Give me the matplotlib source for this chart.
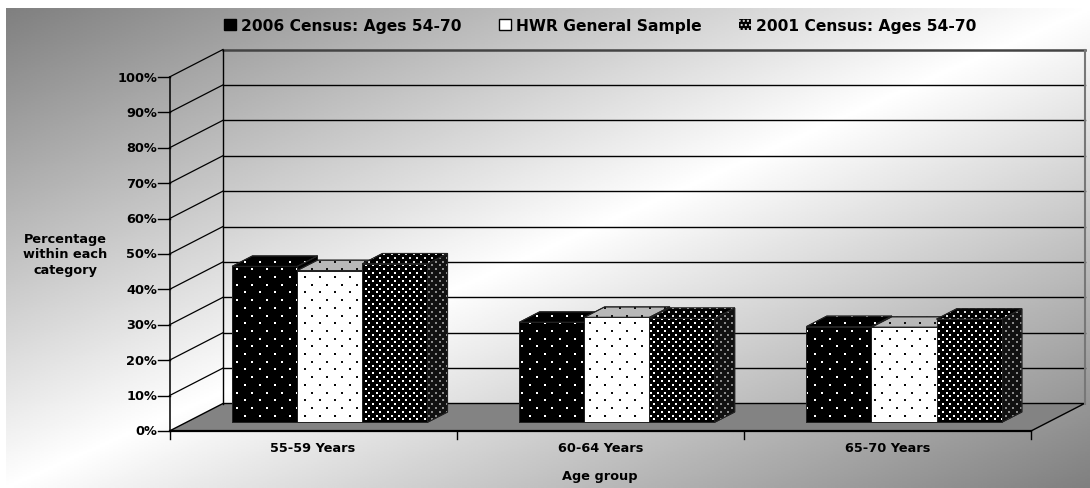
import numpy as np
import matplotlib.pyplot as plt
from matplotlib.patches import Polygon, Patch

# data (percent)
categories = ['55-59 Years', '60-64 Years', '65-70 Years']
series = ['2006 Census: Ages 54-70', 'HWR General Sample', '2001 Census: Ages 54-70']
census_2006 = [44.1, 28.3, 27.1]
hwr_sample = [42.9, 29.7, 26.9]
census_2001 = [44.8, 29.4, 29.2]
yticks = np.arange(0, 101, 10)

# layout in pixels (from top-left of the 1090x489 image)
W, H = 1090, 489
X0, X3 = 169.5, 1031.0      # front edge of the floor
Y0, Y100 = 432.0, 78.0      # front axis 0% and 100%
DXP, DYP = 53.5, 27.5       # depth of the box
sx = (X3 - X0) / 3
sy = (Y0 - Y100) / 100
DX, DY = DXP / sx, DYP / sy

ZF, ZB = 0.31, 0.69         # bar depth (front, back) as fraction of box
BW = 0.2265                 # bar width in category units
GAP = (1 - 3 * BW) / 2

fig = plt.figure(figsize=(W / 100, H / 100), dpi=100)

# gradient background
bg = fig.add_axes([0, 0, 1, 1])
bg.axis('off')
xx, yy = np.meshgrid(np.linspace(0, 1, 500), np.linspace(0, 1, 250))
g = 1 - 0.5 * np.abs(xx + yy - 1)
bg.imshow(g, cmap='gray', vmin=0, vmax=1, extent=(6, W, H, 9),
          aspect='auto', interpolation='bilinear')
bg.set_xlim(0, W)
bg.set_ylim(H, 0)

ax = fig.add_axes([0, 0, 1, 1])
ax.axis('off')
ax.set_xlim(-X0 / sx, (W - X0) / sx)
ax.set_ylim(-(H - Y0) / sy, Y0 / sy)


def P(x, y, z):
    return (x + z * DX, y + z * DY)


def dots(poly, stepx, stepy, color, size):
    v = poly.get_xy()
    xa, ya = v.min(0)
    xb, yb = v.max(0)
    sxd, syd = stepx / sx, stepy / sy
    xs, ys = [], []
    for r in np.arange(np.floor(ya / syd), np.ceil(yb / syd) + 1):
        off = 0.5 * sxd if r % 2 else 0
        cols = np.arange(np.floor(xa / sxd) - 1, np.ceil(xb / sxd) + 1) * sxd + off
        xs.extend(cols)
        ys.extend([r * syd] * len(cols))
    sc = ax.scatter(xs, ys, s=size, c=color, marker='s', lw=0,
                    zorder=poly.get_zorder() + 0.01)
    sc.set_clip_path(poly)


def face(verts, fc, dc, step, size, z):
    poly = Polygon(verts, closed=True, fc=fc, ec='#222222', lw=0.7, zorder=z)
    ax.add_patch(poly)
    dots(poly, step[0], step[1], dc, size)
    edge = Polygon(verts, closed=True, fill=False, ec='#222222', lw=0.7, zorder=z + 0.02)
    ax.add_patch(edge)


# floor
ax.add_patch(Polygon([P(0, 0, 0), P(3, 0, 0), P(3, 0, 1), P(0, 0, 1)],
                     closed=True, fc='#838383', ec='black', lw=1.0, zorder=1))
ax.plot([0, 3], [0, 0], color='black', lw=1.6, zorder=1.5)

# walls: grid lines
for v in yticks[1:]:
    c, lw = ('#444444', 1.8) if v == 100 else ('black', 1.0)
    a, b = P(0, v, 1), P(3, v, 1)
    ax.plot([a[0], b[0]], [a[1], b[1]], color=c, lw=lw, zorder=1)
    ax.plot([0, a[0]], [v, a[1]], color='black', lw=0.9, zorder=1)
a, b = P(0, 0, 1), P(0, 100, 1)
ax.plot([a[0], b[0]], [a[1], b[1]], color='black', lw=1.0, zorder=1)
a, b = P(3, 0, 1), P(3, 100, 1)
ax.plot([a[0], b[0]], [a[1], b[1]], color='#777777', lw=1.5, zorder=1)

# value axis
ax.plot([0, 0], [0, 100], color='black', lw=1.1, zorder=1.5)
for v in yticks:
    ax.plot([-11.5 / sx, 0], [v, v], color='black', lw=1.0, zorder=1.5)
    ax.text(-12.5 / sx, v, f'{v}%', ha='right', va='center',
            fontsize=9.3, fontweight='bold')

# category axis
for i in range(4):
    ax.plot([i, i], [0, -8 / sy], color='black', lw=1.0, zorder=1.5)
for i, cat in enumerate(categories):
    ax.text(i + 0.5, (Y0 - 449) / sy, cat, ha='center', va='center',
            fontsize=9.3, fontweight='bold')
ax.text(1.5, (Y0 - 477) / sy, 'Age group', ha='center', va='center',
        fontsize=9.3, fontweight='bold')
ax.text((65 - X0) / sx, (Y0 - 255) / sy, 'Percentage\nwithin each\ncategory',
        ha='center', va='center', multialignment='center', linespacing=1.25,
        fontsize=9.3, fontweight='bold')

# styles per series: (front fc, dot), (top fc, dot), (side fc, dot), step
styles = [
    (('black', 'white'), ('black', 'white'), ('black', '#bbbbbb'), (15, 7.7)),
    (('white', '#111111'), ('#b8b8b8', '#111111'), ('#9a9a9a', '#111111'), (15, 7.7)),
    (('black', 'white'), ('black', '#dddddd'), ('#111111', '#8a8a8a'), (7.4, 3.85)),
]
values = [census_2006, hwr_sample, census_2001]

z = 3
for i in range(len(categories)):
    for j, vals in enumerate(values):
        h = vals[i]
        xl = i + GAP + j * BW
        xr = xl + BW
        front, top, side, step = styles[j]
        sz = 2.2 if step[0] > 10 else 1.6
        face([P(xr, 0, ZF), P(xr, 0, ZB), P(xr, h, ZB), P(xr, h, ZF)],
             side[0], side[1], step, sz, z)
        face([P(xl, h, ZF), P(xr, h, ZF), P(xr, h, ZB), P(xl, h, ZB)],
             top[0], top[1], step, sz, z + 0.1)
        face([P(xl, 0, ZF), P(xr, 0, ZF), P(xr, h, ZF), P(xl, h, ZF)],
             front[0], front[1], step, sz, z + 0.2)
        z += 1

handles = [Patch(fc='black', ec='black'),
           Patch(fc='white', ec='black'),
           Patch(fc='black', ec='#dddddd', hatch='....', lw=0)]
fig.legend(handles, series, loc='center', bbox_to_anchor=(600 / W, 1 - 26 / H),
           ncol=3, frameon=False, prop={'size': 11.2, 'weight': 'bold'},
           handlelength=0.8, handleheight=0.7, handletextpad=0.3,
           columnspacing=2.4, borderpad=0)

fig.savefig('out.png', dpi=100)
